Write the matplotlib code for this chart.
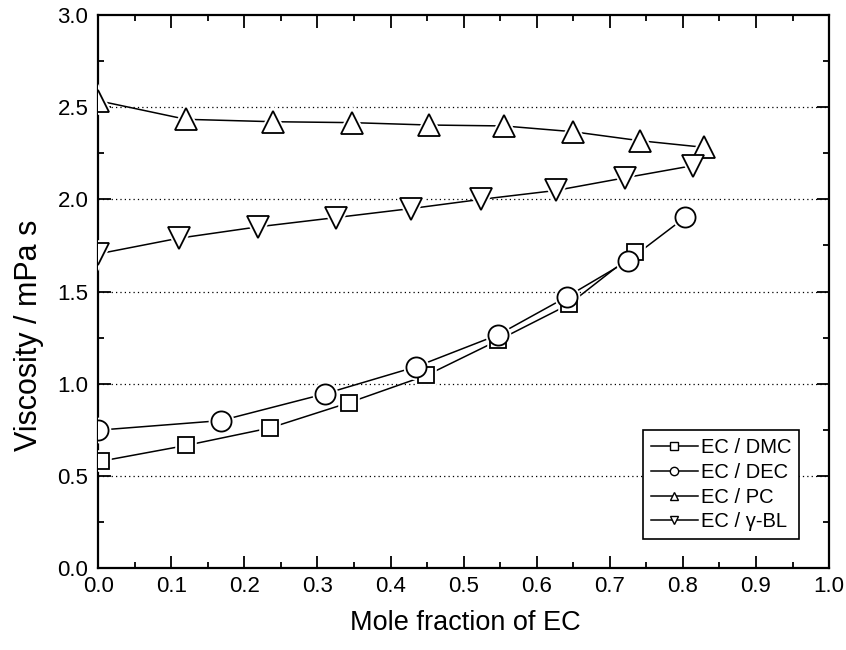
import numpy as np
import matplotlib
matplotlib.use("Agg")
import matplotlib.pyplot as plt
from matplotlib.lines import Line2D
from matplotlib.ticker import MultipleLocator

# --------------------------------------------------------------
# Viscosity of EC binary mixtures vs. mole fraction of EC
# --------------------------------------------------------------

x_dmc = [0.004, 0.12, 0.235, 0.343, 0.449, 0.547, 0.644, 0.735]
y_dmc = [0.58, 0.665, 0.76, 0.897, 1.045, 1.235, 1.43, 1.712]

x_dec = [0.0, 0.168, 0.311, 0.435, 0.547, 0.642, 0.725, 0.803]
y_dec = [0.748, 0.80, 0.946, 1.092, 1.265, 1.473, 1.667, 1.902]

x_pc = [0.0, 0.12, 0.239, 0.347, 0.453, 0.555, 0.649, 0.741, 0.829]
y_pc = [2.535, 2.434, 2.421, 2.416, 2.403, 2.398, 2.367, 2.318, 2.282]

x_gbl = [0.0, 0.11, 0.219, 0.325, 0.428, 0.524, 0.626, 0.721, 0.814]
y_gbl = [1.704, 1.789, 1.851, 1.901, 1.95, 2.0, 2.048, 2.117, 2.183]

labels = ["EC / DMC", "EC / DEC", "EC / PC", "EC / \u03b3-BL"]
markers = ["s", "o", "^", "v"]
sizes = [11.5, 14.5, 15.5, 15.5]

plt.rcParams['font.family'] = ['Liberation Sans', 'DejaVu Sans']

fig = plt.figure(figsize=(8.46, 6.5), dpi=100)
ax = fig.add_axes([0.116, 0.126, 0.864, 0.851])

series = [(x_dmc, y_dmc), (x_dec, y_dec), (x_pc, y_pc), (x_gbl, y_gbl)]
for (xs, ys), m, ms in zip(series, markers, sizes):
    ax.plot(xs, ys, '-', color='black', lw=1.1, zorder=3)
    # white halo gives the small gap between line and symbol
    ax.plot(xs, ys, m, ms=ms, mfc='white', mec='white', mew=4, ls='none', zorder=4)
    ax.plot(xs, ys, m, ms=ms, mfc='white', mec='black', mew=1.3, ls='none', zorder=5)

ax.set_xlim(0, 1.0)
ax.set_ylim(0, 3.0)
ax.xaxis.set_major_locator(MultipleLocator(0.1))
ax.xaxis.set_minor_locator(MultipleLocator(0.05))
ax.yaxis.set_major_locator(MultipleLocator(0.5))
ax.yaxis.set_minor_locator(MultipleLocator(0.25))
ax.tick_params(which='both', direction='in', top=True, right=True,
               width=1.3, labelsize=16)
ax.tick_params(axis='x', pad=6)
ax.tick_params(axis='y', pad=7)
ax.tick_params(which='major', length=9)
ax.tick_params(which='minor', length=4.5)
for sp in ax.spines.values():
    sp.set_linewidth(1.6)

for g in [0.5, 1.0, 1.5, 2.0, 2.5]:
    ax.axhline(g, color='black', lw=0.9, ls=(0, (1, 2.5)), zorder=1)

fig.text(465 / 846, 1 - 623 / 650, 'Mole fraction of EC', fontsize=19.5,
         ha='center', va='center')
fig.text(29 / 846, 1 - 335 / 650, 'Viscosity / mPa s', fontsize=22,
         rotation=90, ha='center', va='center')

handles = [Line2D([], [], color='black', lw=1.1, marker=m, ms=6,
                  mfc='white', mec='black', mew=1.0) for m in markers]
leg = ax.legend(handles, labels, loc='lower right', fontsize=14.5,
                frameon=True, fancybox=False, edgecolor='black',
                framealpha=1, handlelength=2.3, handletextpad=0.15,
                labelspacing=0.28, borderpad=0.4, borderaxespad=0,
                bbox_to_anchor=(0.959, 0.052))
leg.get_frame().set_linewidth(1.2)
leg.set_zorder(6)

fig.savefig('out.png', dpi=100)
